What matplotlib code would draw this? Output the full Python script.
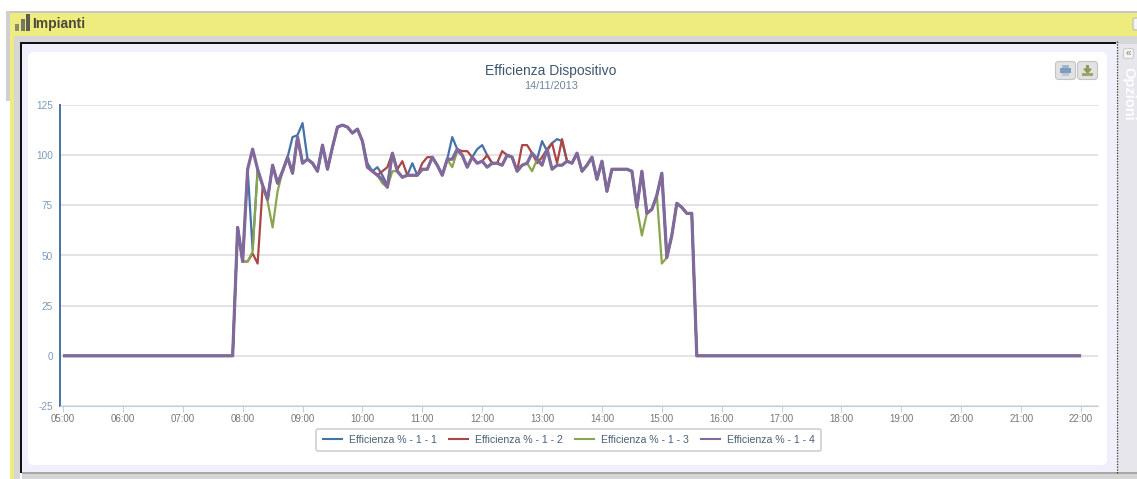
import matplotlib
matplotlib.use('Agg')
import matplotlib.pyplot as plt
from matplotlib.patches import Rectangle, FancyBboxPatch

plt.rcParams['font.family'] = ['Liberation Sans', 'DejaVu Sans']
plt.rcParams['axes.unicode_minus'] = False

title = 'Efficienza Dispositivo'
subtitle = '14/11/2013'
names = ['Efficienza % - 1 - 1', 'Efficienza % - 1 - 2', 'Efficienza % - 1 - 3', 'Efficienza % - 1 - 4']
colors = ['#4572A7', '#AA4643', '#89A54E', '#80699B']
y_ticks = [-25, 0, 25, 50, 75, 100, 125]
hours = ['05:00', '06:00', '07:00', '08:00', '09:00', '10:00', '11:00', '12:00', '13:00',
         '14:00', '15:00', '16:00', '17:00', '18:00', '19:00', '20:00', '21:00', '22:00']

# valori ogni 5 minuti, dalle 07:55 alle 15:30
serie1 = [64, 47, 93, 53, 93, 85, 78, 95, 86, 92, 99, 109, 110, 116, 98, 96, 92, 105, 93, 104,
          114, 115, 114, 111, 113, 107, 96, 92, 94, 90, 85, 101, 92, 89, 90, 96, 90, 93, 93, 99,
          95, 90, 98, 109, 103, 100, 94, 99, 103, 105, 100, 96, 96, 95, 100, 99, 92, 95, 96, 101,
          98, 107, 102, 106, 108, 107, 97, 96, 101, 92, 95, 99, 88, 97, 82, 93, 93, 93, 93, 92,
          74, 92, 71, 73, 80, 91, 49, 60, 76, 74, 71, 71]
serie2 = [64, 47, 47, 51, 46, 84, 78, 95, 86, 92, 99, 91, 109, 96, 98, 96, 92, 105, 93, 104,
          114, 115, 114, 111, 113, 107, 94, 92, 90, 92, 94, 101, 93, 97, 90, 90, 90, 96, 99, 99,
          95, 90, 98, 98, 103, 102, 102, 99, 96, 97, 100, 96, 96, 102, 100, 99, 92, 105, 105, 101,
          96, 99, 103, 106, 96, 108, 97, 96, 101, 92, 95, 99, 88, 97, 82, 93, 93, 93, 93, 92,
          74, 92, 71, 73, 80, 91, 49, 60, 76, 74, 71, 71]
serie3 = [64, 47, 47, 52, 92, 85, 77, 64, 82, 92, 99, 91, 109, 96, 98, 96, 92, 105, 93, 104,
          114, 115, 114, 111, 113, 107, 94, 92, 90, 86, 84, 92, 92, 89, 90, 90, 90, 93, 93, 99,
          95, 90, 98, 94, 102, 100, 94, 99, 96, 97, 94, 96, 96, 95, 100, 99, 92, 95, 96, 92,
          98, 95, 103, 93, 95, 95, 97, 96, 101, 92, 95, 99, 88, 97, 82, 93, 93, 93, 93, 92,
          74, 60, 71, 73, 80, 46, 49, 60, 76, 74, 71, 71]
serie4 = [64, 47, 93, 103, 93, 85, 78, 95, 86, 92, 99, 91, 109, 96, 98, 96, 92, 105, 93, 104,
          114, 115, 114, 111, 113, 107, 94, 92, 90, 88, 84, 101, 92, 89, 90, 90, 90, 93, 93, 99,
          95, 90, 98, 98, 103, 100, 94, 99, 96, 97, 94, 96, 96, 95, 100, 99, 92, 95, 96, 101,
          98, 95, 103, 93, 95, 95, 97, 96, 101, 92, 95, 99, 88, 97, 82, 93, 93, 93, 93, 92,
          74, 92, 71, 73, 80, 91, 49, 60, 76, 74, 71, 71]
zeri_prima = [0] * 35  # 05:00 - 07:50
zeri_dopo = [0] * 78   # 15:35 - 22:00

W, H = 1137, 479
fig = plt.figure(figsize=(W / 100, H / 100), dpi=100, facecolor='white')

# cornice della pagina, in pixel
bg = fig.add_axes([0, 0, 1, 1])
bg.set_xlim(0, W)
bg.set_ylim(H, 0)
bg.axis('off')


def box(x, y, w, h, c):
    bg.add_patch(Rectangle((x, y), w, h, facecolor=c, edgecolor='none'))


box(6, 11, W - 6, 3, '#c8c8c8')
box(6, 11, 4, 90, '#d0d0d0')
box(10, 13, W - 10, 23, '#EEEC7E')
box(10, 13, 4, H - 13, '#EEEC7E')
box(14, 36, W - 14, 8, '#d6d6d6')
box(14, 36, 6, H - 36, '#d6d6d6')
box(20, 42, 1096, 2, '#111111')
box(20, 42, 2, 431, '#111111')
box(22, 44, 1094, 428, '#F0F0FC')
box(22, 472, W - 22, 2, '#a8a8a8')
box(22, 474, W - 22, 5, '#d6d6d6')
box(1117, 44, 20, 428, '#E6E6EC')
bg.plot([1116.5, 1116.5], [41, 474], color='#444444', lw=1, ls=(0, (1, 1)))
bg.add_patch(FancyBboxPatch((31, 55), 1073, 407, boxstyle='round,pad=3,rounding_size=6',
                            facecolor='white', edgecolor='none'))

# icona e testi della cornice
for x0, h0, col in [(15, 7, '#8a8a70'), (21, 12, '#777760'), (26, 17, '#5c5c50')]:
    box(x0, 31 - h0, 3.5, h0, col)
bg.text(32, 24, 'Impianti', fontsize=10, fontweight='bold', color='#4a4a3a', va='center', ha='left')
bg.text(1128, 94, 'Opzioni', fontsize=10.5, fontweight='bold', color='white', rotation=270,
        va='center', ha='center')
bg.add_patch(FancyBboxPatch((1125, 50), 7, 7, boxstyle='round,pad=1.5,rounding_size=2',
                            facecolor='#f4f4f4', edgecolor='#cccccc', lw=0.8))
bg.text(1128.5, 53, '«', fontsize=7, color='#777777', ha='center', va='center')
bg.add_patch(FancyBboxPatch((1134, 19), 5, 10, boxstyle='round,pad=1,rounding_size=2',
                            facecolor='#f4f4f4', edgecolor='#bbbbbb', lw=0.8))

# pulsanti stampa / download
for bx in [1057, 1079]:
    bg.add_patch(FancyBboxPatch((bx, 63), 17, 15, boxstyle='round,pad=1.5,rounding_size=3',
                                facecolor='#e2e2e2', edgecolor='#c4c4c4', lw=0.8))
box(1062, 65, 7, 3, '#9fb6d0')
box(1060, 68, 11, 5, '#7f9cbd')
box(1062, 73, 7, 3, '#b8c8dc')
box(1086, 65, 3, 5, '#8c9a5e')
bg.fill([1084, 1091, 1087.5], [69, 69, 73], color='#8c9a5e')
box(1082, 73, 11, 3, '#9aa86c')

# grafico
ax = fig.add_axes([60 / W, 1 - 406 / H, (1098 - 60) / W, (406 - 105) / H])
ax.patch.set_alpha(0)
minuti = [5 * i for i in range(len(zeri_prima) + len(serie1) + len(zeri_dopo))]
for serie, nome, col, lw in zip([serie1, serie2, serie3, serie4], names, colors, [1.6, 1.6, 1.6, 2.3]):
    ax.plot(minuti, zeri_prima + serie + zeri_dopo, color=col, lw=lw, label=nome,
            solid_joinstyle='round', solid_capstyle='butt', zorder=3)

ax.set_xlim(-3, 1037)
ax.set_ylim(-25, 125)
ax.set_yticks(y_ticks)
ax.set_xticks([60 * i for i in range(len(hours))])
ax.set_xticklabels(hours)
ax.grid(axis='y', color='#dedede', lw=1.2)
ax.set_axisbelow(True)
ax.tick_params(axis='y', length=0, pad=5, labelsize=7.2, labelcolor='#7d99bd')
ax.tick_params(axis='x', length=4, width=0.7, color='#C0D0E0', pad=1.5, labelsize=7, labelcolor='#777777')
for s in ['top', 'right']:
    ax.spines[s].set_visible(False)
ax.spines['left'].set_color('#4572A7')
ax.spines['left'].set_linewidth(1.4)
ax.spines['bottom'].set_color('#C0D0E0')
ax.spines['bottom'].set_linewidth(0.8)

bg.text(551, 71, title, fontsize=10, color='#3E576F', ha='center', va='center')
bg.text(551, 86, subtitle, fontsize=7.8, color='#6D869F', ha='center', va='center')

leg = ax.legend(loc='center', bbox_to_anchor=((568.5 - 60) / (1098 - 60), (406 - 440) / (406 - 105)),
                ncol=4, frameon=True, fontsize=7.6, labelcolor='#4a6078', handlelength=2.0,
                handletextpad=0.55, columnspacing=1.05, borderpad=0.6, fancybox=True)
leg.get_frame().set_edgecolor('#c4c4c4')
leg.get_frame().set_linewidth(1.2)
for h in leg.get_lines():
    h.set_linewidth(1.5)

fig.savefig('out.png', dpi=100)
